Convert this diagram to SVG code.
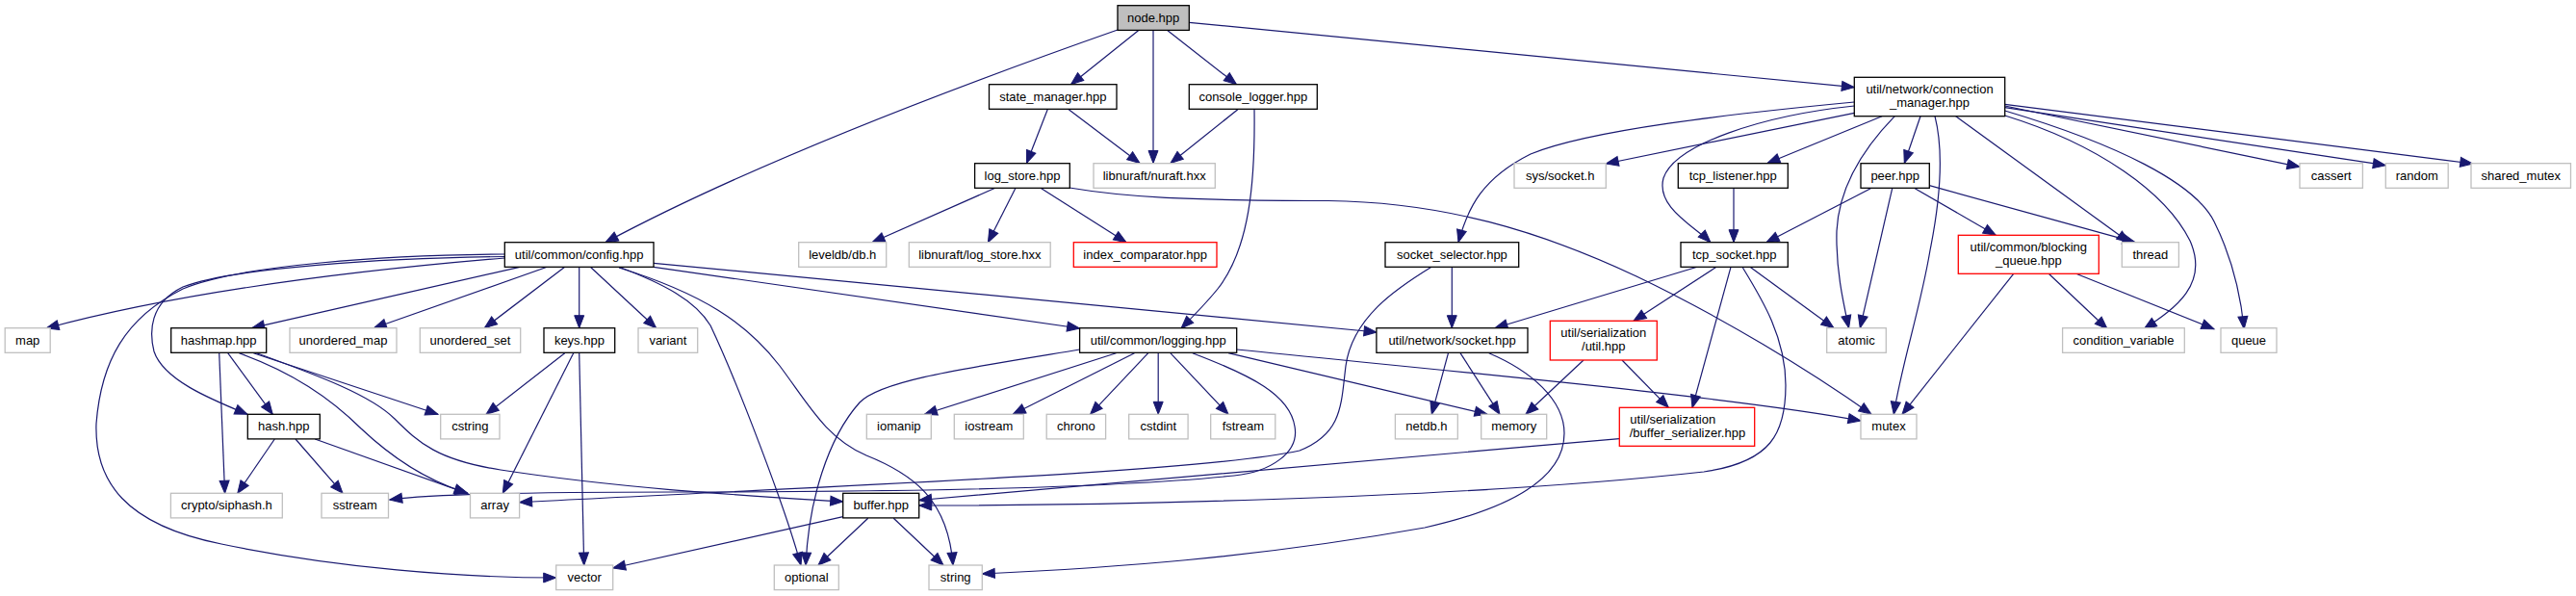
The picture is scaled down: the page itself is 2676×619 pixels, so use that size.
<svg xmlns="http://www.w3.org/2000/svg" width="2676" height="619" viewBox="0 0 2676 619">
<style>
rect{fill:#fff;stroke:#000;stroke-width:1.3}
.x rect{stroke:#bfbfbf}
.r rect{stroke:#ff0000}
.root rect{fill:#bfbfbf}
text{font-family:"Liberation Sans",Arial,Helvetica,sans-serif;font-size:13px;fill:#000;text-anchor:middle}
.l{text-anchor:start}
#edges path{fill:none;stroke:#191970;stroke-width:1.2;marker-end:url(#ah)}
</style>
<defs>
<marker id="ah" markerUnits="userSpaceOnUse" markerWidth="16" markerHeight="12" refX="13" refY="5" orient="auto" overflow="visible">
<path d="M0,0 L13,5 L0,10 z" fill="#191970" stroke="#191970" stroke-width="1"/>
</marker>
</defs>
<rect x="0" y="0" width="2676" height="619" style="fill:#fff;stroke:none"/>
<g id="edges">
<path d="M1161,31 C1050,70 800,160 629,251.7"/>
<path d="M1182.5,31.7 L1112.5,87.7"/>
<path d="M1198,31.7 L1198,169.5"/>
<path d="M1213,31.7 L1284.5,87.7"/>
<path d="M1235.3,23.3 L1926.3,90.7"/>
<path d="M1088.4,113.3 L1066.5,169.5"/>
<path d="M1109.6,113.3 L1184,169.5"/>
<path d="M1286.4,113.3 L1216,169.5"/>
<path d="M1303,113.3 C1304,190 1298,258 1265,300 C1252,316 1238,330 1227,341"/>
<path d="M1033.8,195.3 L906,251.7"/>
<path d="M1055,195.3 L1026.4,251.7"/>
<path d="M1081,195.3 L1170,251.7"/>
<path d="M1111,195 C1170,205 1230,208 1380,208.5 C1500,210 1600,240 1700,287 C1790,330 1880,385 1944,430.3"/>
<path d="M524.3,268 C380,280 200,300 48,341"/>
<path d="M540,277.3 L261.7,340.7"/>
<path d="M568.3,277.3 L388.3,340.7"/>
<path d="M586.7,277.3 L503.3,340.7"/>
<path d="M601.7,277.3 L601.7,340.7"/>
<path d="M613.3,277.3 L681.7,340.7"/>
<path d="M643,277.3 C690,295 722,312 738,338 C765,395 815,525 832,587"/>
<path d="M679,277.3 L1121.6,341"/>
<path d="M679,273.3 L1430,345"/>
<path d="M524.3,266.5 C400,268 240,278 190,298 C155,315 155,345 160,365 C170,395 220,415 257,430.3"/>
<path d="M524.3,264 C400,265 250,275 190,300 C130,330 105,375 100,440 C98,500 130,545 230,565 C350,590 480,600 577.7,600"/>
<path d="M643,278 C730,305 775,335 810,380 C840,420 858,455 900,473 C950,493 985,520 990,587"/>
<path d="M227.7,366.7 L233.6,512.3"/>
<path d="M236.7,366.7 L283.3,430.3"/>
<path d="M248.3,366.7 C300,385 340,410 375,445 C410,478 445,500 486,512.3"/>
<path d="M263.3,366.7 L455,430.3"/>
<path d="M266.7,366.7 C330,390 385,410 410,435 C435,460 455,478 520,488 C650,508 780,515 875.7,521"/>
<path d="M285.3,456 L246.8,512.3"/>
<path d="M307,456 L356,512.3"/>
<path d="M327.2,456 L485,512.3"/>
<path d="M586.7,366.7 L505,430.3"/>
<path d="M595.7,366.7 L522.3,512.3"/>
<path d="M601.7,366.7 L606.7,587"/>
<path d="M1159.5,366.7 L960.4,430.3"/>
<path d="M1178.5,366.7 L1052.2,430.3"/>
<path d="M1192.8,366.7 L1132.6,430.3"/>
<path d="M1203.2,366.7 L1203.2,430.3"/>
<path d="M1215.8,366.7 L1276,430.3"/>
<path d="M1276,366.7 L1545,430.3"/>
<path d="M1284.7,363 C1500,385 1800,412 1933,437"/>
<path d="M1121.6,363 C1000,383 915,395 893,418 C860,455 840,520 837,587"/>
<path d="M1238.8,366.7 C1300,390 1340,410 1345,443 C1350,470 1320,490 1282,494 C1150,508 900,511 700,511 C550,511 450,513 404.7,519"/>
<path d="M1508.3,277.3 L1508.3,340.7"/>
<path d="M1487,277.3 C1450,300 1405,330 1398,380 C1393,420 1395,450 1350,468 C1250,490 900,503 539.6,521.7"/>
<path d="M1504.5,366.7 L1487.3,430.3"/>
<path d="M1517,366.7 L1558,430.3"/>
<path d="M1546.7,366.7 C1590,385 1625,415 1625,450 C1625,500 1560,530 1480,548 C1300,580 1150,590 1020.3,596"/>
<path d="M1763,277.3 L1553,340.7"/>
<path d="M1783,277.3 L1697,333.3"/>
<path d="M1798,277.3 L1758,423.3"/>
<path d="M1810,277.3 C1830,310 1855,350 1855,400 C1855,450 1840,480 1770,490 C1500,520 1100,525 954.7,525"/>
<path d="M1818,277.3 L1905,340.7"/>
<path d="M1645,374 L1585,430.3"/>
<path d="M1685,374 L1733.3,423.3"/>
<path d="M1682.3,455.7 C1400,480 1100,505 954.7,519.5"/>
<path d="M1926.3,106 C1800,118 1650,135 1590,160 C1540,185 1525,215 1515,251.7"/>
<path d="M1926.3,117.3 L1668.3,170"/>
<path d="M1926.3,110 C1830,120 1740,150 1728,185 C1720,215 1760,235 1777,251.7"/>
<path d="M1955,120.7 L1836,169.5"/>
<path d="M1995,120.7 L1978.3,169.5"/>
<path d="M1968.3,120.7 C1930,160 1910,200 1908,240 C1907,280 1915,315 1920.6,340.7"/>
<path d="M2010,120.7 C2020,160 2015,210 2005,260 C1995,320 1975,380 1967.3,430.3"/>
<path d="M2031.7,120.7 L2212,251.7"/>
<path d="M2082.7,120 C2180,150 2250,200 2275,250 C2295,295 2260,320 2227.2,341.7"/>
<path d="M2082.7,115 C2200,150 2280,190 2300,230 C2320,270 2328,310 2331.2,341.7"/>
<path d="M2082.7,110 L2389,173.3"/>
<path d="M2082.7,111.7 L2478.3,171.7"/>
<path d="M2082.7,108.3 L2568.8,170"/>
<path d="M1801,195.3 L1801,251.7"/>
<path d="M1943.3,195.7 L1835,251.7"/>
<path d="M1965.7,195.7 L1932.3,340.7"/>
<path d="M1989.3,195.7 L2073.3,244.3"/>
<path d="M2004.3,192.7 L2218,251.7"/>
<path d="M2091.7,284.3 L1976,430.3"/>
<path d="M2128.3,284.3 L2189.2,341.7"/>
<path d="M2156.7,284.3 L2300,341.7"/>
<path d="M875.7,536.7 L636.7,590"/>
<path d="M901.7,538.3 L850,587"/>
<path d="M928.3,538.3 L980,587"/>
</g>
<g id="node" class="root"><rect x="1161" y="5.7" width="74.3" height="25.7"/><text x="1198.2" y="22.7">node.hpp</text></g>
<g id="state_manager"><rect x="1027.5" y="87.7" width="132.5" height="25.6"/><text x="1093.8" y="104.7">state_manager.hpp</text></g>
<g id="console_logger"><rect x="1235.3" y="87.7" width="133" height="25.6"/><text x="1301.8" y="104.7">console_logger.hpp</text></g>
<g id="log_store"><rect x="1012.6" y="169.7" width="98.7" height="25.6"/><text x="1062" y="186.7">log_store.hpp</text></g>
<g id="nuraft" class="x"><rect x="1136" y="169.7" width="126.3" height="25.6"/><text x="1199.2" y="186.7">libnuraft/nuraft.hxx</text></g>
<g id="sys_socket" class="x"><rect x="1573" y="169.7" width="95.3" height="25.6"/><text x="1620.7" y="186.7">sys/socket.h</text></g>
<g id="tcp_listener"><rect x="1743.3" y="169.7" width="114" height="25.6"/><text x="1800.3" y="186.7">tcp_listener.hpp</text></g>
<g id="peer"><rect x="1933" y="169.7" width="71.3" height="25.6"/><text x="1968.7" y="186.7">peer.hpp</text></g>
<g id="cassert" class="x"><rect x="2389" y="169.7" width="65.4" height="25.6"/><text x="2421.7" y="186.7">cassert</text></g>
<g id="random" class="x"><rect x="2478.3" y="169.7" width="64.9" height="25.6"/><text x="2510.8" y="186.7">random</text></g>
<g id="shared_mutex" class="x"><rect x="2567" y="169.7" width="103.5" height="25.6"/><text x="2618.8" y="186.7">shared_mutex</text></g>
<g id="connection_manager"><rect x="1926.3" y="80.3" width="156.4" height="40.4"/><text x="2004.5" y="96.8">util/network/connection</text><text x="2004.5" y="110.8">_manager.hpp</text></g>
<g id="leveldb" class="x"><rect x="829.7" y="251.7" width="91" height="25.6"/><text x="875.2" y="268.7">leveldb/db.h</text></g>
<g id="log_store_hxx" class="x"><rect x="944.3" y="251.7" width="146.9" height="25.6"/><text x="1017.8" y="268.7">libnuraft/log_store.hxx</text></g>
<g id="index_comparator" class="r"><rect x="1115.3" y="251.7" width="148.7" height="25.6"/><text x="1189.7" y="268.7">index_comparator.hpp</text></g>
<g id="config"><rect x="524.3" y="251.7" width="154.7" height="25.6"/><text x="601.7" y="268.7">util/common/config.hpp</text></g>
<g id="socket_selector"><rect x="1439" y="251.7" width="138.7" height="25.6"/><text x="1508.4" y="268.7">socket_selector.hpp</text></g>
<g id="tcp_socket"><rect x="1746" y="251.7" width="111.3" height="25.6"/><text x="1801.7" y="268.7">tcp_socket.hpp</text></g>
<g id="blocking_queue" class="r"><rect x="2034.3" y="244.3" width="146" height="40"/><text x="2107.3" y="260.8">util/common/blocking</text><text x="2107.3" y="274.8">_queue.hpp</text></g>
<g id="thread" class="x"><rect x="2204.3" y="251.7" width="59.1" height="25.6"/><text x="2233.9" y="268.7">thread</text></g>
<g id="map" class="x"><rect x="5.2" y="340.7" width="47" height="25.6"/><text x="28.7" y="357.7">map</text></g>
<g id="hashmap"><rect x="177.7" y="340.7" width="99" height="25.6"/><text x="227.2" y="357.7">hashmap.hpp</text></g>
<g id="unordered_map" class="x"><rect x="301" y="340.7" width="111" height="25.6"/><text x="356.5" y="357.7">unordered_map</text></g>
<g id="unordered_set" class="x"><rect x="436.3" y="340.7" width="104.4" height="25.6"/><text x="488.5" y="357.7">unordered_set</text></g>
<g id="keys"><rect x="565" y="340.7" width="73.7" height="25.6"/><text x="601.9" y="357.7">keys.hpp</text></g>
<g id="variant" class="x"><rect x="663" y="340.7" width="61.7" height="25.6"/><text x="693.9" y="357.7">variant</text></g>
<g id="logging"><rect x="1121.6" y="340.7" width="163.1" height="25.6"/><text x="1203.2" y="357.7">util/common/logging.hpp</text></g>
<g id="socket_hpp"><rect x="1429.9" y="340.7" width="157.1" height="25.6"/><text x="1508.5" y="357.7">util/network/socket.hpp</text></g>
<g id="serialization_util" class="r"><rect x="1610.3" y="333.3" width="111" height="40.7"/><text x="1665.8" y="349.8">util/serialization</text><text x="1665.8" y="363.8">/util.hpp</text></g>
<g id="atomic" class="x"><rect x="1897.7" y="340.7" width="61.6" height="25.6"/><text x="1928.5" y="357.7">atomic</text></g>
<g id="condition_variable" class="x"><rect x="2142.6" y="340.7" width="126.7" height="25.6"/><text x="2206" y="357.7">condition_variable</text></g>
<g id="queue" class="x"><rect x="2307" y="340.7" width="58" height="25.6"/><text x="2336" y="357.7">queue</text></g>
<g id="hash"><rect x="257.3" y="430.3" width="75" height="25.6"/><text x="294.8" y="447.3">hash.hpp</text></g>
<g id="cstring" class="x"><rect x="457.7" y="430.3" width="61.3" height="25.6"/><text x="488.4" y="447.3">cstring</text></g>
<g id="iomanip" class="x"><rect x="900.3" y="430.3" width="67" height="25.6"/><text x="933.8" y="447.3">iomanip</text></g>
<g id="iostream" class="x"><rect x="991.3" y="430.3" width="72" height="25.6"/><text x="1027.3" y="447.3">iostream</text></g>
<g id="chrono" class="x"><rect x="1087.2" y="430.3" width="61.4" height="25.6"/><text x="1117.9" y="447.3">chrono</text></g>
<g id="cstdint" class="x"><rect x="1172.7" y="430.3" width="61.4" height="25.6"/><text x="1203.4" y="447.3">cstdint</text></g>
<g id="fstream" class="x"><rect x="1257.7" y="430.3" width="67.1" height="25.6"/><text x="1291.3" y="447.3">fstream</text></g>
<g id="netdb" class="x"><rect x="1449.4" y="430.3" width="64.9" height="25.6"/><text x="1481.9" y="447.3">netdb.h</text></g>
<g id="memory" class="x"><rect x="1538.7" y="430.3" width="68" height="25.6"/><text x="1572.7" y="447.3">memory</text></g>
<g id="buffer_serializer" class="r"><rect x="1682.3" y="423.3" width="140.4" height="40"/><text class="l" x="1693.3" y="439.8">util/serialization</text><text class="l" x="1692.7" y="453.8">/buffer_serializer.hpp</text></g>
<g id="mutex" class="x"><rect x="1933" y="430.3" width="58" height="25.6"/><text x="1962" y="447.3">mutex</text></g>
<g id="siphash" class="x"><rect x="177.4" y="512.3" width="115.9" height="25.6"/><text x="235.4" y="529.3">crypto/siphash.h</text></g>
<g id="sstream" class="x"><rect x="334" y="512.3" width="69.5" height="25.6"/><text x="368.8" y="529.3">sstream</text></g>
<g id="array" class="x"><rect x="488.5" y="512.3" width="51.1" height="25.6"/><text x="514.1" y="529.3">array</text></g>
<g id="buffer"><rect x="875.7" y="512.3" width="79" height="25.6"/><text x="915.2" y="529.3">buffer.hpp</text></g>
<g id="vector" class="x"><rect x="577.7" y="587" width="59" height="25.6"/><text x="607.2" y="604">vector</text></g>
<g id="optional" class="x"><rect x="804.3" y="587" width="67" height="25.6"/><text x="837.8" y="604">optional</text></g>
<g id="string" class="x"><rect x="965" y="587" width="55.3" height="25.6"/><text x="992.7" y="604">string</text></g>
</svg>
